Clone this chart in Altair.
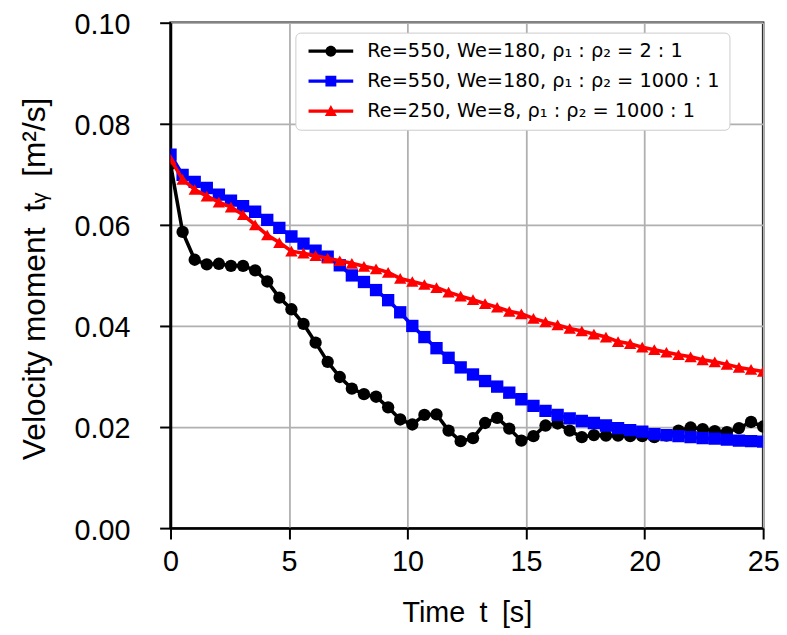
import altair as alt
import pandas as pd

# time samples (s)
times = [0.00, 0.51, 1.02, 1.53, 2.04, 2.55, 3.06, 3.57, 4.08, 4.59,
         5.10, 5.61, 6.12, 6.63, 7.14, 7.65, 8.16, 8.67, 9.18, 9.69,
         10.20, 10.71, 11.22, 11.73, 12.24, 12.76, 13.27, 13.78, 14.29, 14.80,
         15.31, 15.82, 16.33, 16.84, 17.35, 17.86, 18.37, 18.88, 19.39, 19.90,
         20.41, 20.92, 21.43, 21.94, 22.45, 22.96, 23.47, 23.98, 24.49, 25.00]

black_vals = [0.0720, 0.0586, 0.0531, 0.0522, 0.0523, 0.0519, 0.0519, 0.0510, 0.0488, 0.0456,
              0.0433, 0.0404, 0.0367, 0.0329, 0.0299, 0.0276, 0.0265, 0.0260, 0.0239, 0.0215,
              0.0205, 0.0224, 0.0225, 0.0193, 0.0172, 0.0178, 0.0208, 0.0218, 0.0197, 0.0173,
              0.0182, 0.0203, 0.0207, 0.0193, 0.0180, 0.0184, 0.0183, 0.0183, 0.0182, 0.0182,
              0.0180, 0.0183, 0.0193, 0.0199, 0.0196, 0.0192, 0.0190, 0.0198, 0.0210, 0.0201]

blue_vals = [0.0739, 0.0699, 0.0685, 0.0673, 0.0660, 0.0648, 0.0637, 0.0626, 0.0610, 0.0594,
             0.0577, 0.0563, 0.0549, 0.0537, 0.0520, 0.0500, 0.0487, 0.0471, 0.0451, 0.0427,
             0.0400, 0.0378, 0.0356, 0.0337, 0.0318, 0.0304, 0.0291, 0.0280, 0.0268, 0.0255,
             0.0242, 0.0232, 0.0224, 0.0217, 0.0212, 0.0208, 0.0203, 0.0198, 0.0194, 0.0191,
             0.0186, 0.0184, 0.0182, 0.0180, 0.0178, 0.0177, 0.0175, 0.0173, 0.0172, 0.0171]

red_vals = [0.0730, 0.0690, 0.0670, 0.0657, 0.0645, 0.0635, 0.0620, 0.0600, 0.0580, 0.0565,
            0.0548, 0.0544, 0.0539, 0.0534, 0.0529, 0.0524, 0.0518, 0.0513, 0.0506, 0.0494,
            0.0488, 0.0482, 0.0476, 0.0467, 0.0459, 0.0452, 0.0444, 0.0437, 0.0429, 0.0424,
            0.0415, 0.0408, 0.0402, 0.0395, 0.0390, 0.0384, 0.0378, 0.0369, 0.0365, 0.0358,
            0.0353, 0.0348, 0.0343, 0.0339, 0.0333, 0.0329, 0.0324, 0.0318, 0.0314, 0.0310]

series_names = [
    "Re=550, We=180, ρ₁ : ρ₂ = 2 : 1",
    "Re=550, We=180, ρ₁ : ρ₂ = 1000 : 1",
    "Re=250, We=8, ρ₁ : ρ₂ = 1000 : 1",
]
series_colors = ["#000000", "#0000ff", "#ff0000"]
series_shapes = ["circle", "square", "triangle-up"]
x_ticks = [0, 5, 10, 15, 20, 25]
y_ticks = [0.0, 0.02, 0.04, 0.06, 0.08, 0.10]

rows = []
for name, vals in zip(series_names, [black_vals, blue_vals, red_vals]):
    for t, v in zip(times, vals):
        rows.append({"t": t, "v": v, "series": name})
df = pd.DataFrame(rows)

# legend symbols: line segment + marker (custom paths)
line_path = "M-1,-0.3 L7.2,-0.3 L7.2,0.3 L-1,0.3 Z"
marker_paths = [
    "M2.1,0 A1,1 0 0,1 4.1,0 A1,1 0 0,1 2.1,0 Z",
    "M2.1,-1 L4.1,-1 L4.1,1 L2.1,1 Z",
    "M3.1,-1.1 L4.2,0.9 L2.0,0.9 Z",
]
legend_paths = [line_path + " " + m for m in marker_paths]

color_scale = alt.Scale(domain=series_names, range=series_colors)
shape_scale = alt.Scale(domain=series_names, range=legend_paths)

axis_font = "Liberation Sans"
sp = "\u2002"
x_enc = alt.X("t:Q", scale=alt.Scale(domain=[0, 25], nice=False),
              axis=alt.Axis(values=x_ticks, title="Time" + sp + "t" + sp + "[s]", format="d",
                            titleX=299, titleY=94, titleBaseline="alphabetic",
                            titleFontSize=29, labelFlush=False, labelPadding=9))
y_enc = alt.Y("v:Q", scale=alt.Scale(domain=[0, 0.1], nice=False),
              axis=alt.Axis(values=y_ticks, format=".2f",
                            title="Velocity moment" + sp + "tᵧ" + sp + "[m²/s]",
                            titleX=-127, titleY=258, titleBaseline="alphabetic",
                            titleFontSize=32,
                            labelFlush=False, labelPadding=30, labelOffset=2))

legend = alt.Legend(
    title=None, orient="none", legendX=126, legendY=10,
    symbolSize=121, symbolStrokeWidth=0, symbolOpacity=1, labelFontSize=19.5,
    labelFont="DejaVu Sans", labelLimit=600, labelOffset=44,
    rowPadding=9.2, padding=9, fillColor="white", strokeColor="#cccccc",
    cornerRadius=5,
)

layers = []
for i, name in enumerate(series_names):
    base = alt.Chart(df).transform_filter(alt.datum.series == name)
    line = base.mark_line(strokeWidth=3.6, clip=True).encode(
        x=x_enc, y=y_enc,
        color=alt.Color("series:N", scale=color_scale, legend=None),
    )
    pts = base.mark_point(filled=True, size=155, opacity=1,
                          shape=series_shapes[i], clip=True).encode(
        x=x_enc, y=y_enc,
        color=alt.Color("series:N", scale=color_scale, legend=None),
    )
    layers.extend([line, pts])

legend_layer = alt.Chart(df).mark_point(filled=True, opacity=0, size=121, clip=True).encode(
    x=x_enc, y=y_enc,
    color=alt.Color("series:N", scale=color_scale, legend=legend),
    shape=alt.Shape("series:N", scale=shape_scale, legend=legend),
)
layers.append(legend_layer)

chart = alt.layer(*layers).resolve_legend(
    color="independent", shape="independent"
).properties(
    width=598, height=510,
    padding={"left": 164, "top": 12, "right": 16, "bottom": 104},
    autosize=alt.AutoSizeParams(type="none"),
).configure_view(
    stroke="black", strokeWidth=2.5
).configure_axis(
    labelFont=axis_font, labelFontSize=29, labelColor="black",
    titleFont=axis_font, titleFontWeight="normal",
    titleColor="black",
    gridColor="#b0b0b0", gridWidth=1.8, gridOpacity=1,
    domainColor="black", domainWidth=2.5,
    tickColor="black", tickWidth=2, tickSize=11,
)

chart.save("out.html", embed_options={"renderer": "svg", "actions": False})
